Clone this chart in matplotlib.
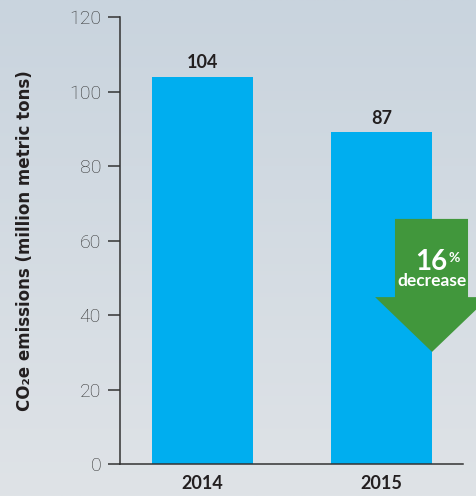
import numpy as np
import matplotlib.pyplot as plt
from matplotlib.patches import Polygon

plt.rcParams['font.family'] = ['Lato', 'DejaVu Sans']

years = ['2014', '2015']
emissions = [104, 89]          # bar heights as drawn
value_labels = ['104', '87']   # labels printed above the bars
yticks = [0, 20, 40, 60, 80, 100, 120]
change_pct = '16'
change_word = 'decrease'

bar_color = '#00aeef'
arrow_color = '#41973c'
ink = '#231f20'

fig = plt.figure(figsize=(4.76, 4.96), dpi=100)

# soft grey-blue background gradient
bg = fig.add_axes([0, 0, 1, 1], zorder=-10)
top = np.array([201, 212, 222]) / 255
bot = np.array([223, 227, 231]) / 255
t = np.linspace(0, 1, 256)[:, None]
grad = top * (1 - t) + bot * t
bg.imshow(grad[:, None, :], aspect='auto', extent=[0, 1, 0, 1])
bg.axis('off')

ax = fig.add_axes([0.2521, 0.0645, 0.7206, 0.9012])
ax.patch.set_alpha(0)
x = np.arange(len(years))
bars = ax.bar(x, emissions, width=0.564, color=bar_color, zorder=2)

for b, lab in zip(bars, value_labels):
    ax.annotate(lab, (b.get_x() + b.get_width() / 2, b.get_height()),
                xytext=(0, 4), textcoords='offset points', ha='center', va='bottom',
                fontsize=13, fontweight='bold', color=ink)

ax.set_xlim(-0.461, 1.455)
ax.set_ylim(0, 120)
ax.set_yticks(yticks)
ax.set_xticks(x)
ax.set_xticklabels(years, fontsize=13, fontweight='bold', color=ink)
ax.tick_params(axis='x', length=0, pad=8)
ax.tick_params(axis='y', length=8.6, width=1.1, color='#333333', pad=5,
               labelsize=14, labelcolor='#333333')
for lbl in ax.get_yticklabels():
    lbl.set_family(['Roboto', 'DejaVu Sans'])
    lbl.set_fontweight('light')
for s in ['top', 'right']:
    ax.spines[s].set_visible(False)
for s in ['left', 'bottom']:
    ax.spines[s].set_color('#333333')
    ax.spines[s].set_linewidth(1.1)

# decrease arrow, placed relative to the 2015 bar
cx = x[1] + 0.282
arrow = Polygon([[cx - 0.207, 65.8], [cx + 0.201, 65.8], [cx + 0.201, 44.8],
                 [cx + 0.319, 44.8], [cx, 30.1], [cx - 0.318, 44.8],
                 [cx - 0.207, 44.8]],
                closed=True, facecolor=arrow_color, edgecolor='none',
                zorder=3, clip_on=False)
ax.add_patch(arrow)
ax.text(cx - 0.005, 52.1, change_pct, ha='center', va='baseline', color='white',
        fontsize=20, fontweight='bold', zorder=4)
ax.text(cx + 0.123, 54.2, '%', ha='center', va='baseline', color='white',
        fontsize=10, fontweight='bold', zorder=4)
ax.text(cx, 47.8, change_word, ha='center', va='baseline', color='white',
        fontsize=12.5, fontweight='bold', zorder=4)

fig.text(25 / 476, 0.515, 'CO\u2082e emissions (million metric tons)', rotation=90,
         ha='center', va='center', fontsize=12, fontweight='bold', color=ink,
         family='DejaVu Sans')

fig.savefig('out.png', dpi=100)
